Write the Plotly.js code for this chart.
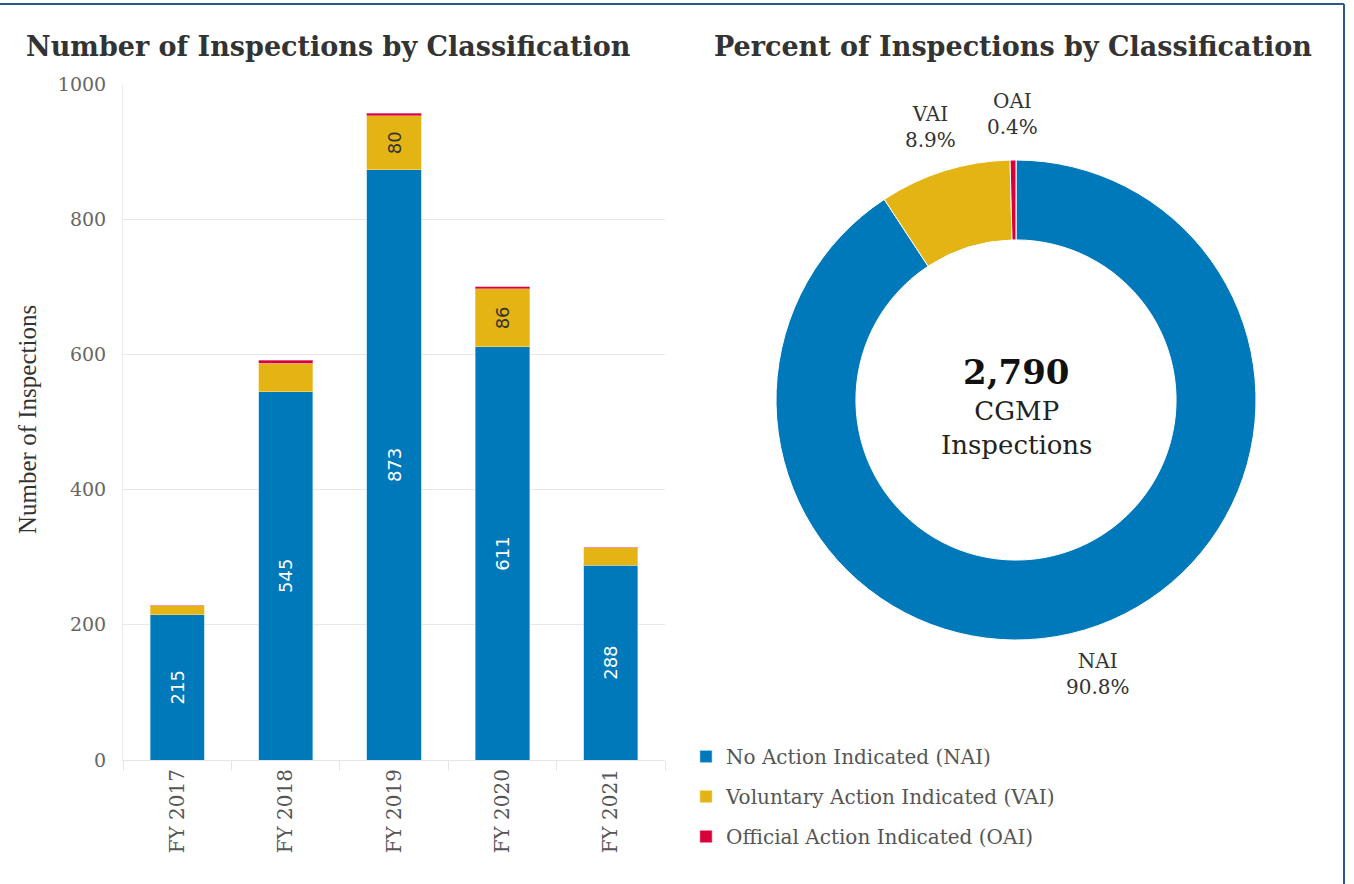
<!DOCTYPE html>
<html>
<head>
<meta charset="utf-8">
<script src="https://cdn.plot.ly/plotly-3.0.1.min.js"></script>
<style>html,body{margin:0;padding:0;background:#fff;}#chart{width:1354px;height:884px;}</style>
</head>
<body>
<div id="chart"></div>
<script>
// ---- data ----
const years = ['FY 2017', 'FY 2018', 'FY 2019', 'FY 2020', 'FY 2021'];
const naiValues = [215, 545, 873, 611, 288];
const vaiValues = [13, 42, 80, 86, 26];
const oaiValues = [0, 4, 4, 3, 0];
const seriesNames = ['No Action Indicated (NAI)', 'Voluntary Action Indicated (VAI)', 'Official Action Indicated (OAI)'];
const shortNames = ['NAI', 'VAI', 'OAI'];
const yTicks = [0, 200, 400, 600, 800, 1000];

const colors = ['#0079BA', '#E3B413', '#D9003A'];
const serif = 'DejaVu Serif, serif';
const sum = a => a.reduce((s, v) => s + v, 0);
const totals = [sum(naiValues), sum(vaiValues), sum(oaiValues)];
const grand = sum(totals);

const W = 1354, H = 884;
const px = x => x / W;
const py = y => (H - y) / H;

const barCommon = {
  type: 'bar', x: years, xaxis: 'x', yaxis: 'y',
  textposition: 'inside', textangle: -90, insidetextanchor: 'middle',
  constraintext: 'none', hoverinfo: 'x+y+name', cliponaxis: false
};

const traces = [
  Object.assign({}, barCommon, {
    name: seriesNames[0], y: naiValues, legendgroup: 'a',
    marker: {color: colors[0], line: {color: '#9fd0ea', width: 0.6}},
    text: naiValues.map(String),
    textfont: {color: '#ffffff', size: 18, family: 'DejaVu Sans, sans-serif'}
  }),
  Object.assign({}, barCommon, {
    name: seriesNames[1], y: vaiValues, legendgroup: 'b',
    marker: {color: colors[1], line: {color: '#f3dc8a', width: 0.6}},
    text: vaiValues.map(v => v >= 50 ? String(v) : ''),
    textfont: {color: '#333333', size: 18, family: 'DejaVu Sans, sans-serif'}
  }),
  Object.assign({}, barCommon, {
    name: seriesNames[2], y: oaiValues, legendgroup: 'c',
    marker: {color: colors[2], line: {color: '#f08aa5', width: 0.6}},
    text: oaiValues.map(() => '')
  }),
  {
    type: 'pie', labels: shortNames, values: totals, hole: 0.667,
    sort: false, direction: 'clockwise', rotation: 0,
    marker: {colors: colors, line: {color: '#ffffff', width: 1}},
    textinfo: 'none', showlegend: false,
    hovertemplate: '%{label}: %{value} (%{percent:.1%})<extra></extra>',
    domain: {x: [px(776), px(1256)], y: [py(640), py(160)]}
  }
];

const annotations = [
  {text: '<b>Number of Inspections by Classification</b>', xref: 'paper', yref: 'paper',
   x: px(24), y: py(46), xanchor: 'left', yanchor: 'middle', showarrow: false,
   font: {family: serif, size: 27, color: '#333333'}},
  {text: '<b>Percent of Inspections by Classification</b>', xref: 'paper', yref: 'paper',
   x: px(712), y: py(46), xanchor: 'left', yanchor: 'middle', showarrow: false,
   font: {family: serif, size: 27, color: '#333333'}},
  {text: 'Number of Inspections', xref: 'paper', yref: 'paper', textangle: -90,
   x: px(27), y: py(420), xanchor: 'center', yanchor: 'middle', showarrow: false,
   font: {family: 'Liberation Serif, serif', size: 25, color: '#333333'}},
  {text: '<b>' + grand.toLocaleString('en-US') + '</b>', xref: 'paper', yref: 'paper',
   x: px(1016), y: py(372), xanchor: 'center', yanchor: 'middle', showarrow: false,
   font: {family: serif, size: 34, color: '#111111'}},
  {text: 'CGMP<br>Inspections', xref: 'paper', yref: 'paper',
   x: px(1016), y: py(428), xanchor: 'center', yanchor: 'middle', showarrow: false,
   font: {family: serif, size: 26, color: '#222222'}}
];

// donut slice labels placed outside each slice's mid-angle
const cx = 1016, cy = 400, rLab = 286;
let cum = 0;
totals.forEach((v, i) => {
  const f = (cum + v / 2) / grand;
  cum += v;
  const th = 2 * Math.PI * f;
  annotations.push({
    text: shortNames[i] + '<br>' + (v / grand * 100).toFixed(1) + '%',
    xref: 'paper', yref: 'paper',
    x: px(cx + rLab * Math.sin(th)), y: py(cy - rLab * Math.cos(th)),
    xanchor: 'center', yanchor: 'middle', showarrow: false,
    font: {family: serif, size: 20, color: '#333333'}
  });
});

const layout = {
  width: W, height: H,
  margin: {l: 0, r: 0, t: 0, b: 0},
  paper_bgcolor: '#ffffff', plot_bgcolor: '#ffffff',
  barmode: 'stack', bargap: 0.5,
  font: {family: serif, color: '#555555'},
  xaxis: {
    domain: [px(123), px(665)], anchor: 'y',
    tickangle: -90, tickfont: {family: serif, size: 20, color: '#555555'},
    ticks: 'outside', tickson: 'boundaries', ticklen: 10, tickcolor: '#e6e6e6',
    showline: true, linecolor: '#e6e6e6', showgrid: false, fixedrange: true
  },
  yaxis: {
    domain: [py(760), py(84)], anchor: 'x',
    range: [0, 1000], tickvals: yTicks,
    tickfont: {family: serif, size: 19, color: '#666666'},
    showgrid: true, gridcolor: '#e8e8e8', zeroline: false,
    showline: true, linecolor: '#eeeeee', ticks: '', ticklabelstandoff: 12, fixedrange: true
  },
  legend: {
    x: px(686), y: py(737), xanchor: 'left', yanchor: 'top',
    font: {family: serif, size: 20, color: '#555555'},
    tracegroupgap: 11, itemclick: false, bgcolor: 'rgba(0,0,0,0)'
  },
  annotations: annotations,
  shapes: [
    {type: 'line', xref: 'paper', yref: 'paper', x0: 0, x1: px(1344), y0: py(4), y1: py(4),
     line: {color: '#2a5a8c', width: 2}},
    {type: 'line', xref: 'paper', yref: 'paper', x0: px(1344), x1: px(1344), y0: 0, y1: py(4),
     line: {color: '#2a5a8c', width: 2}}
  ]
};

Plotly.newPlot('chart', traces, layout, {displayModeBar: false});
</script>
</body>
</html>
